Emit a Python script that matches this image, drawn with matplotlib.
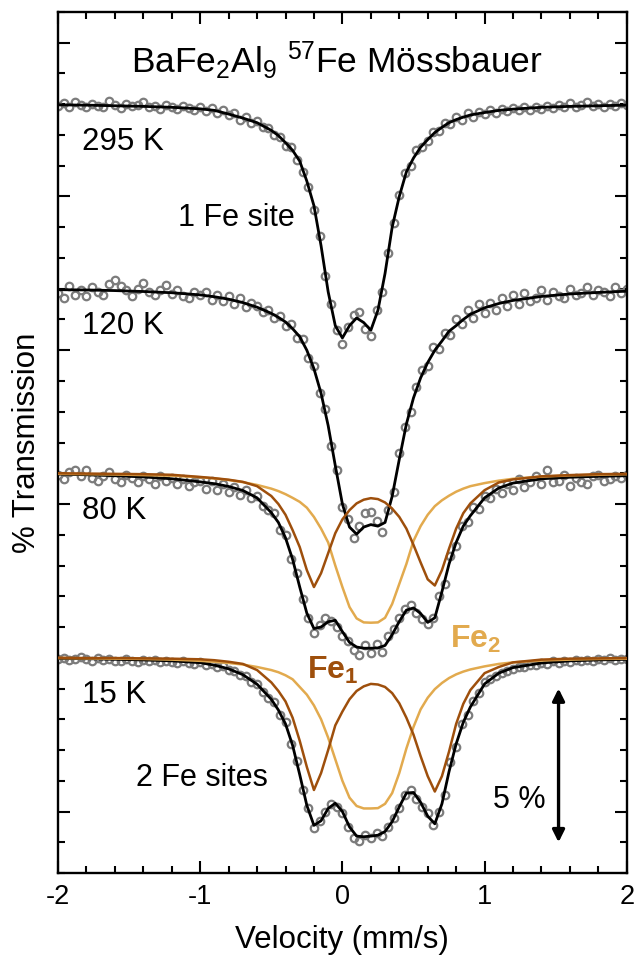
import numpy as np
import matplotlib
matplotlib.use("Agg")
import matplotlib.pyplot as plt
from matplotlib.ticker import MultipleLocator, FixedLocator

plt.rcParams['font.family'] = ['Liberation Sans', 'DejaVu Sans']
plt.rcParams['mathtext.fontset'] = 'custom'
plt.rcParams['mathtext.rm'] = 'Liberation Sans'
plt.rcParams['mathtext.bf'] = 'Liberation Sans:bold'
plt.rcParams['mathtext.default'] = 'regular'

# velocity channels of the measured points (mm/s)
vel = np.round(np.arange(-2.0, 2.0001, 0.04), 2)

# velocity grid of the fitted curves (mm/s)
vfit = [-2.0, -1.8, -1.6, -1.4, -1.2, -1.0, -0.9, -0.8, -0.7, -0.6,
        -0.5, -0.45, -0.4, -0.35, -0.3, -0.25, -0.2, -0.15, -0.1, -0.05,
        0.0, 0.05, 0.1, 0.15, 0.2, 0.25, 0.3, 0.35, 0.4, 0.45,
        0.5, 0.55, 0.6, 0.65, 0.7, 0.75, 0.8, 0.85, 0.9,
        1.0, 1.1, 1.2, 1.4, 1.6, 1.8, 2.0]

# absorption (% below the baseline) of the measured points
data_295 = [0.05, -0.05, 0.10, -0.08, 0.02, 0.08, -0.02, 0.06, 0.10, -0.10,
            0.04, 0.12, 0.00, 0.07, 0.03, -0.06, 0.10, 0.05, 0.14, 0.02,
            0.09, 0.15, 0.06, 0.12, 0.18, 0.10,
            0.22, 0.12, 0.28, 0.20, 0.35, 0.30, 0.50, 0.40, 0.62, 0.55,
            0.75, 0.78, 1.0, 1.05, 1.35, 1.4, 1.8, 2.2, 2.7, 3.45, 4.3, 5.6, 6.5, 7.35,
            7.8, 7.25, 6.85, 6.75, 7.3, 7.55, 6.7, 6.1, 4.85, 3.85, 2.95,
            2.25, 2.0, 1.5, 1.4, 1.2, 0.9, 0.88, 0.62, 0.65, 0.42, 0.5, 0.3, 0.4, 0.25, 0.32,
            0.2, 0.28, 0.15, 0.22, 0.12, 0.2, 0.1, 0.18, 0.08, 0.14, 0.05, 0.12, 0.02,
            0.1, -0.05, 0.08, 0.04, -0.08, 0.06, 0.0, 0.08, -0.02, 0.05, -0.04, 0.02]
data_120 = [0.15, 0.3, -0.1, 0.2, 0.05, 0.25, -0.05, 0.1, 0.2, -0.15,
            -0.3, -0.1, 0.05, 0.25, 0.0, -0.2, 0.1, 0.2, 0.05, -0.12,
            0.18, 0.05, 0.25, 0.3, 0.1, 0.2,
            0.1, 0.35, 0.2, 0.4, 0.22, 0.5, 0.3, 0.6, 0.45, 0.55,
            0.75, 0.7, 0.95, 0.9, 1.2, 1.15, 1.6, 1.65, 2.25, 2.5, 3.4, 3.9, 5.1, 5.9,
            7.1, 7.5, 8.1, 7.7, 7.3, 7.25, 7.55, 7.9, 7.2, 6.6, 5.35,
            4.5, 4.0, 3.2, 2.65, 2.5, 1.9, 1.95, 1.45, 1.5, 1.0, 1.15, 0.7, 0.95, 0.5, 0.8,
            0.45, 0.7, 0.3, 0.55, 0.2, 0.5, 0.15, 0.4, 0.3, 0.05, 0.35, 0.1, 0.25,
            0.3, 0.0, 0.2, 0.15, -0.05, 0.2, 0.05, 0.1, 0.25, -0.05, 0.15, 0.0]
data_80 = [0.05, 0.2, -0.05, -0.1, 0.1, -0.1, 0.15, 0.25, 0.1, -0.05,
           0.2, 0.3, 0.05, 0.15, 0.3, 0.1, 0.2, 0.35, 0.1, 0.25,
           0.15, 0.35, 0.2, 0.4, 0.3, 0.25,
           0.5, 0.25, 0.55, 0.35, 0.6, 0.45, 0.7, 0.55, 0.8, 0.75,
           1.05, 1.2, 1.3, 1.85, 2.0, 2.8, 3.25, 4.1, 4.7, 5.2, 4.95, 4.7, 4.8, 5.0,
           5.3, 5.45, 5.75, 5.9, 5.6, 5.85, 5.55, 5.8, 5.3, 5.05, 4.7,
           4.4, 4.3, 4.55, 4.75, 4.9, 4.7, 4.0, 3.6, 2.7, 2.35, 1.7, 1.6, 1.1, 1.15, 0.75,
           0.8, 0.5, 0.65, 0.35, 0.55, 0.2, 0.45, 0.3, 0.1, 0.35, -0.1, 0.3, 0.25,
           0.05, 0.4, 0.15, 0.3, 0.35, 0.1, 0.05, 0.25, 0.2, 0.1, 0.15, 0.05]
data_15 = [0.03, 0.0, 0.08, 0.05, -0.02, 0.04, 0.1, 0.02, 0.07, 0.03,
           0.09, 0.12, 0.05, 0.1, 0.14, 0.08, 0.12, 0.06, 0.15, 0.1,
           0.13, 0.18, 0.12, 0.16, 0.2, 0.15,
           0.22, 0.2, 0.3, 0.28, 0.4, 0.42, 0.55, 0.58, 0.78, 0.85,
           1.1, 1.3, 1.45, 1.85, 2.1, 2.8, 3.35, 4.3, 4.9, 5.55, 5.3, 5.0, 4.75, 4.85,
           5.05, 5.5, 5.85, 5.95, 5.75, 5.85, 5.7, 5.8, 5.5, 5.2, 4.9,
           4.45, 4.3, 4.6, 4.85, 5.05, 5.45, 5.0, 4.45, 3.4, 2.9, 2.15, 1.85, 1.4, 1.15, 0.8,
           0.7, 0.58, 0.5, 0.42, 0.36, 0.3, 0.3, 0.22, 0.25, 0.18, 0.2, 0.12, 0.16,
           0.1, 0.14, 0.08, 0.12, 0.06, 0.1, 0.04, 0.08, 0.02, 0.06, 0.03, 0.05]

# fitted total absorption (%)
fit_295 = [0.02, 0.03, 0.05, 0.07, 0.1, 0.15, 0.2, 0.32, 0.45, 0.6,
           0.85, 1.02, 1.25, 1.5, 1.85, 2.5, 3.3, 4.6, 6.1, 7.2,
           7.6, 7.2, 6.95, 7.1, 7.35, 6.7, 5.5, 4.0, 3.0, 2.2,
           1.75, 1.4, 1.15, 0.92, 0.75, 0.6, 0.5, 0.42, 0.35,
           0.27, 0.2, 0.16, 0.1, 0.07, 0.05, 0.03]
fit_120 = [0.03, 0.04, 0.06, 0.09, 0.13, 0.2, 0.26, 0.34, 0.45, 0.6,
           0.8, 0.93, 1.08, 1.3, 1.56, 2.0, 2.6, 3.4, 4.45, 5.75,
           7.0, 7.75, 7.98, 7.75, 7.67, 7.72, 7.6, 6.75, 5.55, 4.4,
           3.55, 2.9, 2.4, 2.0, 1.7, 1.38, 1.2, 1.0, 0.83,
           0.62, 0.48, 0.38, 0.25, 0.17, 0.12, 0.08]
fit_80 = [0.03, 0.05, 0.08, 0.12, 0.18, 0.28, 0.34, 0.43, 0.56, 0.8,
          1.28, 1.6, 2.1, 2.8, 3.7, 4.55, 5.05, 5.0, 4.83, 4.78,
          5.15, 5.5, 5.65, 5.69, 5.69, 5.68, 5.6, 5.25, 4.82, 4.45,
          4.38, 4.56, 4.85, 4.7, 3.85, 2.95, 2.25, 1.72, 1.38,
          0.8, 0.48, 0.32, 0.18, 0.13, 0.1, 0.08]
fit_15 = [0.02, 0.03, 0.05, 0.07, 0.1, 0.16, 0.24, 0.36, 0.55, 0.86,
          1.35, 1.7, 2.15, 2.85, 3.8, 4.8, 5.45, 5.3, 4.9, 4.73,
          5.0, 5.5, 5.8, 5.82, 5.8, 5.77, 5.65, 5.33, 4.85, 4.4,
          4.38, 4.7, 5.15, 5.4, 4.75, 3.7, 2.8, 2.1, 1.6,
          0.85, 0.5, 0.32, 0.17, 0.1, 0.07, 0.05]

# site components (%)
fe1_80 = [0.0, 0.01, 0.02, 0.03, 0.05, 0.12, 0.16, 0.21, 0.28, 0.42,
          0.74, 1.0, 1.35, 1.85, 2.4, 3.15, 3.7, 3.25, 2.6, 1.95,
          1.5, 1.2, 0.98, 0.86, 0.81, 0.84, 0.95, 1.15, 1.42, 1.8,
          2.33, 2.9, 3.45, 3.65, 3.15, 2.45, 1.8, 1.3, 0.98,
          0.55, 0.3, 0.2, 0.1, 0.06, 0.03, 0.02]
fe2_80 = [0.02, 0.03, 0.04, 0.06, 0.08, 0.13, 0.17, 0.22, 0.29, 0.38,
          0.5, 0.58, 0.68, 0.8, 0.93, 1.12, 1.42, 1.8, 2.25, 3.0,
          3.7, 4.35, 4.72, 4.85, 4.86, 4.85, 4.7, 4.25, 3.6, 2.95,
          2.2, 1.72, 1.35, 1.07, 0.88, 0.73, 0.6, 0.5, 0.42,
          0.32, 0.24, 0.18, 0.11, 0.07, 0.05, 0.03]
fe1_15 = [0.0, 0.01, 0.01, 0.02, 0.03, 0.05, 0.08, 0.13, 0.2, 0.4,
          0.8, 1.08, 1.42, 1.95, 2.7, 3.55, 4.3, 3.75, 3.0, 2.2,
          1.75, 1.35, 1.08, 0.93, 0.85, 0.87, 0.95, 1.15, 1.48, 1.95,
          2.5, 3.2, 3.85, 4.35, 3.85, 3.05, 2.15, 1.5, 1.05,
          0.5, 0.3, 0.15, 0.06, 0.03, 0.02, 0.01]
fe2_15 = [0.01, 0.02, 0.03, 0.04, 0.06, 0.1, 0.13, 0.17, 0.22, 0.3,
          0.4, 0.47, 0.57, 0.7, 0.95, 1.2, 1.55, 2.0, 2.6, 3.3,
          4.0, 4.55, 4.82, 4.9, 4.9, 4.89, 4.75, 4.4, 3.75, 2.95,
          2.25, 1.68, 1.3, 1.02, 0.82, 0.66, 0.54, 0.45, 0.38,
          0.28, 0.2, 0.15, 0.09, 0.06, 0.04, 0.03]

# vertical offsets (baselines) of the stacked spectra, %
offsets = {'295 K': 25, '120 K': 19, '80 K': 13, '15 K': 7}

c_pts = '#7c7c7c'
c_fe1 = '#9e4f0c'
c_fe2 = '#e2aa4e'

fig = plt.figure(figsize=(6.37, 9.58), dpi=100)
ax = fig.add_axes([0.091, 0.0887, 0.893, 0.8988])

spectra = [('295 K', data_295, fit_295), ('120 K', data_120, fit_120),
           ('80 K', data_80, fit_80), ('15 K', data_15, fit_15)]
for name, d, f in spectra:
    base = offsets[name]
    ax.plot(vel, base - np.array(d), 'o', ms=5.4, mfc='none', mec=c_pts, mew=1.6, zorder=2)
    ax.plot(vfit, base - np.array(f), color='black', lw=2.0, zorder=3)

for name, f1, f2 in [('80 K', fe1_80, fe2_80), ('15 K', fe1_15, fe2_15)]:
    base = offsets[name]
    ax.plot(vfit, base - np.array(f2), color=c_fe2, lw=1.8, zorder=4)
    ax.plot(vfit, base - np.array(f1), color=c_fe1, lw=1.8, zorder=4)

ax.set_xlim(-2, 2)
ax.set_ylim(0, 28)

ax.text(-0.04, 26.4, r'BaFe$_2$Al$_9$ $^{57}$Fe Mössbauer', fontsize=25.5,
        ha='center', va='center')
for name in offsets:
    ax.text(-1.83, offsets[name] - 1.22, name, fontsize=22.5, ha='left', va='center')
ax.text(-1.156, 21.3, '1 Fe site', fontsize=22, ha='left', va='center')
ax.text(-1.45, 3.09, '2 Fe sites', fontsize=22, ha='left', va='center')
ax.text(-0.25, 6.6, r'$\mathbf{Fe_1}$', fontsize=23, color=c_fe1,
        ha='left', va='center')
ax.text(0.756, 7.6, r'$\mathbf{Fe_2}$', fontsize=23, color=c_fe2,
        ha='left', va='center')
ax.text(1.06, 2.37, '5 %', fontsize=22, ha='left', va='center')
ax.annotate('', xy=(1.52, 1.0), xytext=(1.52, 6.0),
            arrowprops=dict(arrowstyle='<|-|>', color='black', lw=2.4,
                            mutation_scale=18, shrinkA=0, shrinkB=0))

ax.xaxis.set_major_locator(MultipleLocator(1))
ax.xaxis.set_minor_locator(MultipleLocator(0.2))
ax.yaxis.set_major_locator(FixedLocator([2, 7, 12, 17, 22, 27]))
ax.yaxis.set_minor_locator(MultipleLocator(1))
ax.tick_params(which='both', direction='in', top=True, right=True, width=1.5)
ax.tick_params(which='major', length=8.5, labelsize=19.5, pad=8)
ax.tick_params(which='minor', length=5)
ax.tick_params(axis='y', labelleft=False)
ax.set_xticks([-2, -1, 0, 1, 2])
ax.set_xticklabels(['-2', '-1', '0', '1', '2'])
for s in ax.spines.values():
    s.set_linewidth(1.7)

ax.set_xlabel('Velocity (mm/s)', fontsize=22.5, labelpad=11)
ax.set_ylabel('% Transmission', fontsize=22.5, labelpad=8)

fig.savefig('out.png', dpi=100)
